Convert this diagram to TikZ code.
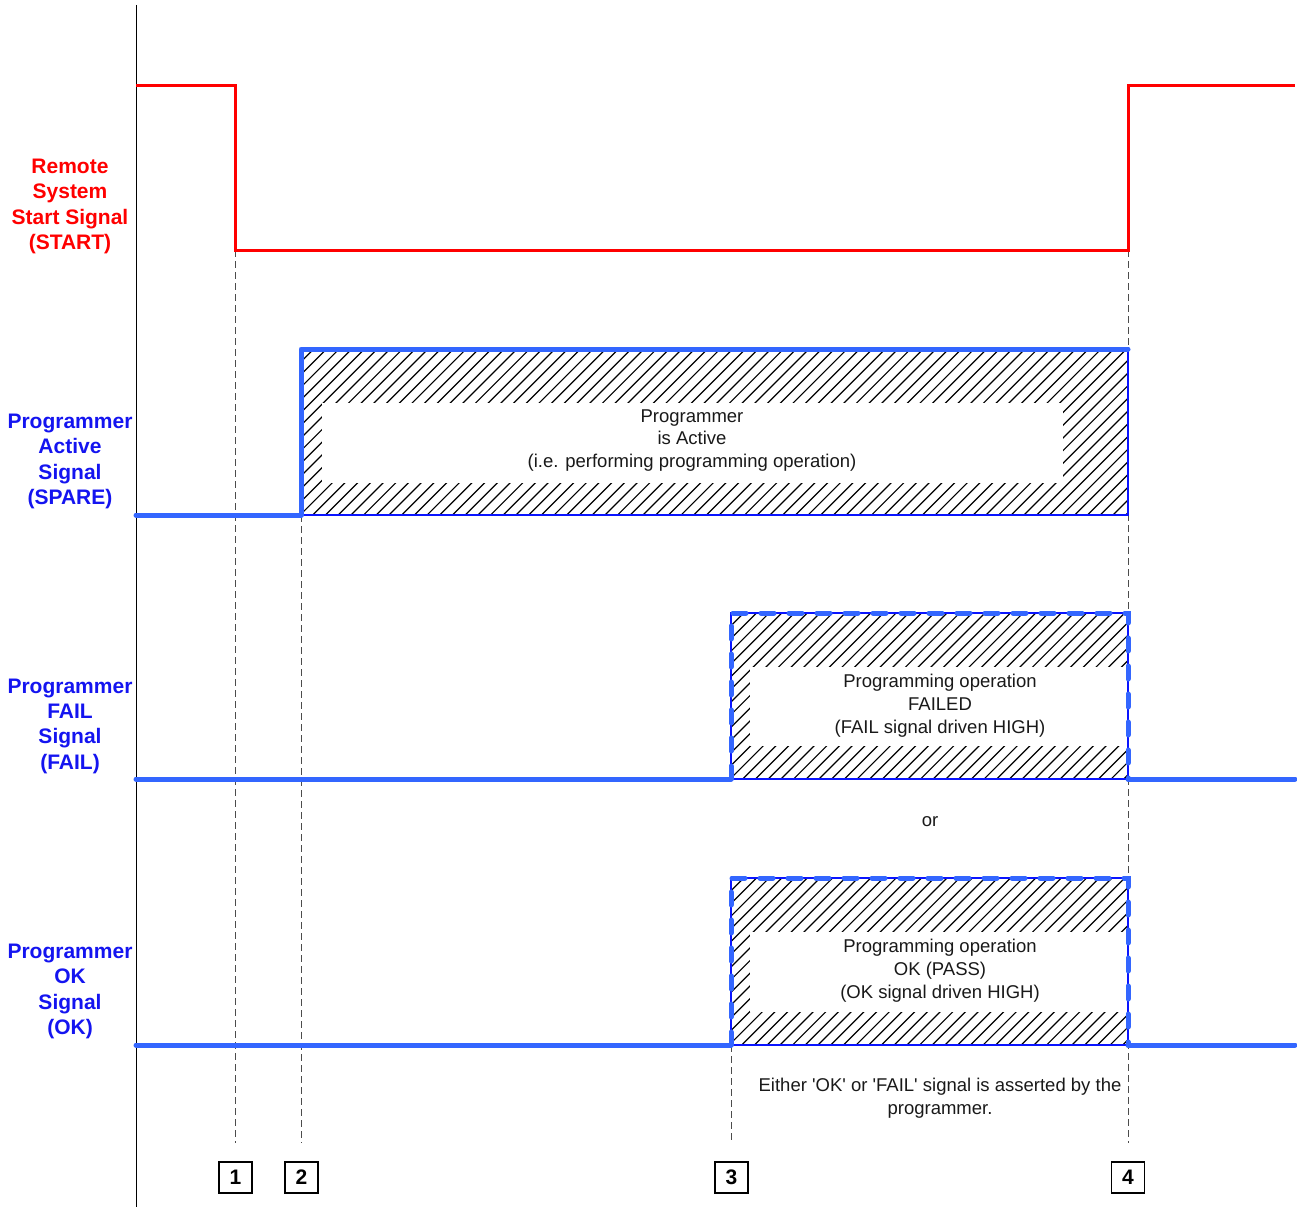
\documentclass[tikz,border=0pt]{standalone}
\usepackage{fontspec}
\setmainfont{Liberation Sans}
\definecolor{sigblue}{RGB}{51,102,255}
\definecolor{lblblue}{RGB}{20,20,240}
\definecolor{sigred}{RGB}{255,0,0}
\newcommand\hatchbox[4]{%
  \begin{scope}
    \clip (#1,#2) rectangle (#3,#4);
    \foreach \k in {0,...,82}{%
      \pgfmathsetmacro\xs{#1-(#4-#2)+\k*12.7}
      \draw[hatchline] (\xs,#4) -- ++(#4-#2,-#4+#2);
    }
  \end{scope}}
\newcommand\sq{\textquotesingle}
\begin{document}
\begin{tikzpicture}[x=1pt,y=-1pt,
  hatchline/.style={black,line width=1.2pt},
  redsig/.style={sigred,line width=3pt,line join=miter},
  bluesig/.style={sigblue,line width=5pt,line cap=round,line join=round},
  bluedash/.style={sigblue,line width=5pt,line cap=round,dash pattern=on 13pt off 15pt},
  thinblue/.style={blue!80!sigblue,line width=1.5pt},
  guide/.style={black!70,line width=1pt,dash pattern=on 7pt off 4pt},
  lbl/.style={font=\fontsize{21}{25.3}\selectfont\bfseries,align=center,inner sep=0pt},
  txt/.style={font=\fontsize{18.5}{22.8}\selectfont,align=center,inner sep=0pt,text=black!90},
  numbox/.style={draw=black,line width=1.3pt,minimum width=33pt,minimum height=31pt,inner sep=0pt,font=\fontsize{21}{24}\selectfont\bfseries},
  whitebox/.style={fill=white,draw=none}]
\useasboundingbox (0,0) rectangle (1297,1207);

% axis
\draw[black,line width=1pt] (136,5) -- (136,1207);

% guide lines
\coordinate (g1t) at (235,250); \coordinate (g1b) at (235,1143);
\coordinate (g2t) at (301,515); \coordinate (g2b) at (301,1143);
\coordinate (g3t) at (731,1045); \coordinate (g3b) at (731,1143);
\coordinate (g4t) at (1128,250); \coordinate (g4b) at (1128,1143);
\draw[guide] (g1t) -- (g1b);
\draw[guide] (g2t) -- (g2b);
\draw[guide] (g3t) -- (g3b);
\draw[guide] (g4t) -- (g4b);

% START signal
\draw[redsig] (136,85) -- (235,85) -- (235,250) -- (1128,250) -- (1128,85) -- (1295,85);

% SPARE hatched region
\hatchbox{301}{349}{1128}{515}
\fill[whitebox] (322,403) rectangle (1063,483);
\draw[thinblue] (301,349) rectangle (1128,515);
\draw[bluesig] (136,515) -- (301,515) -- (301,349) -- (1128,349);
\node[txt] (act) at (692,440.5) {Programmer\\is Active\\(i.e. performing programming operation)};

% FAIL hatched region
\hatchbox{731}{613}{1128}{779}
\fill[whitebox] (750,667) rectangle (1127,746);
\draw[thinblue] (731,613) rectangle (1128,779);
\draw[bluesig] (136,779) -- (731,779);
\draw[bluedash] (731,779) -- (731,613) -- (1128,613) -- (1128,779);
\draw[bluesig] (1128,779) -- (1295,779);
\node[txt] (fail) at (940,705.5) {Programming operation\\FAILED\\(FAIL signal driven HIGH)};

\node[txt] (or) at (930,822) {or};

% OK hatched region
\hatchbox{731}{878}{1128}{1045}
\fill[whitebox] (750,932) rectangle (1127,1012);
\draw[thinblue] (731,878) rectangle (1128,1045);
\draw[bluesig] (136,1045) -- (731,1045);
\draw[bluedash] (731,1045) -- (731,878) -- (1128,878) -- (1128,1045);
\draw[bluesig] (1128,1045) -- (1295,1045);
\node[txt] (ok) at (940,970.5) {Programming operation\\OK (PASS)\\(OK signal driven HIGH)};

\node[txt] (note) at (940,1098) {Either \sq OK\sq{} or \sq FAIL\sq{} signal is asserted by the\\programmer.};

% labels
\node[lbl,text=sigred] (lstart) at (70,206.5) {Remote\\System\\Start Signal\\(START)};
\node[lbl,text=lblblue] (lspare) at (70,461.5) {Programmer\\Active\\Signal\\(SPARE)};
\node[lbl,text=lblblue] (lfail) at (70,726) {Programmer\\FAIL\\Signal\\(FAIL)};
\node[lbl,text=lblblue] (lok) at (70,991.5) {Programmer\\OK\\Signal\\(OK)};

% numbered markers
\node[numbox] (n1) at (235.5,1177.5) {1};
\node[numbox] (n2) at (301.5,1177.5) {2};
\node[numbox] (n3) at (731.5,1177.5) {3};
\node[numbox] (n4) at (1128,1177.5) {4};
\end{tikzpicture}
\end{document}
